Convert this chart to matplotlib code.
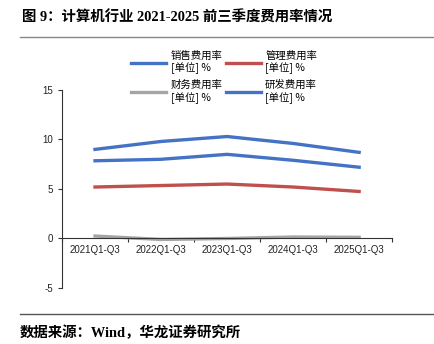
import numpy as np
import matplotlib.pyplot as plt

plt.rcParams['font.family'] = ['Liberation Sans', 'Noto Sans CJK SC']
plt.rcParams['axes.unicode_minus'] = False

periods = ['2021Q1-Q3', '2022Q1-Q3', '2023Q1-Q3', '2024Q1-Q3', '2025Q1-Q3']
sales = [7.85, 8.0, 8.5, 7.9, 7.2]
admin = [5.2, 5.35, 5.5, 5.2, 4.75]
finance = [0.25, -0.1, 0.0, 0.15, 0.12]
rnd = [9.0, 9.8, 10.3, 9.6, 8.7]

if __name__ == '__main__':
    fig = plt.figure(figsize=(4.35, 3.44), dpi=100)
    ax = fig.add_axes([0.1425, 0.1628, 0.759, 0.5756])
    x = np.arange(len(periods))
    lw = 2.4
    h1, = ax.plot(x, sales, color='#4472C4', lw=lw, label='销售费用率\n[单位] %')
    h2, = ax.plot(x, admin, color='#C0504D', lw=lw, label='管理费用率\n[单位] %')
    h3, = ax.plot(x, finance, color='#A5A5A5', lw=lw, label='财务费用率\n[单位] %')
    h4, = ax.plot(x, rnd, color='#4472C4', lw=lw, label='研发费用率\n[单位] %')

    ax.set_xlim(-0.5, len(periods) - 0.5)
    ax.set_ylim(-5, 15)
    ax.set_yticks([-5, 0, 5, 10, 15])
    ax.spines['top'].set_visible(False)
    ax.spines['right'].set_visible(False)
    ax.spines['bottom'].set_position(('data', 0))
    ax.spines['bottom'].set_color('#333333')
    ax.spines['left'].set_color('#333333')
    ax.set_xticks(np.arange(len(periods) + 1) - 0.5)
    ax.set_xticklabels([])
    ax.set_xticks(x, minor=True)
    ax.set_xticklabels(periods, minor=True)
    ax.tick_params(axis='x', which='major', length=3, direction='out', color='#333333')
    ax.tick_params(axis='x', which='minor', length=0, labelsize=7, pad=5, labelcolor='#222222')
    ax.tick_params(axis='y', length=3, labelsize=7, labelcolor='#222222', color='#333333')

    fig.legend(handles=[h1, h3, h2, h4], loc='upper center', bbox_to_anchor=(0.515, 0.88),
               ncol=2, frameon=False, handlelength=3.4, handletextpad=0.4,
               columnspacing=0.3, labelspacing=0.55, prop={'family': 'Noto Sans CJK SC', 'size': 7.5})

    fig.text(0.05, 0.95, '图 9：计算机行业 2021-2025 前三季度费用率情况', fontsize=10.4, fontweight='bold',
             family=['Liberation Serif', 'Noto Sans CJK SC'], va='center', ha='left')
    fig.add_artist(plt.Line2D([0.046, 0.995], [0.893, 0.893], color='#888888', lw=1))
    fig.add_artist(plt.Line2D([0.046, 0.995], [0.087, 0.087], color='#555555', lw=1))
    fig.text(0.046, 0.032, '数据来源：Wind，华龙证券研究所', fontsize=10.4, fontweight='bold',
             family=['Liberation Serif', 'Noto Sans CJK SC'], va='center', ha='left')

    fig.savefig('out.png', dpi=100)
